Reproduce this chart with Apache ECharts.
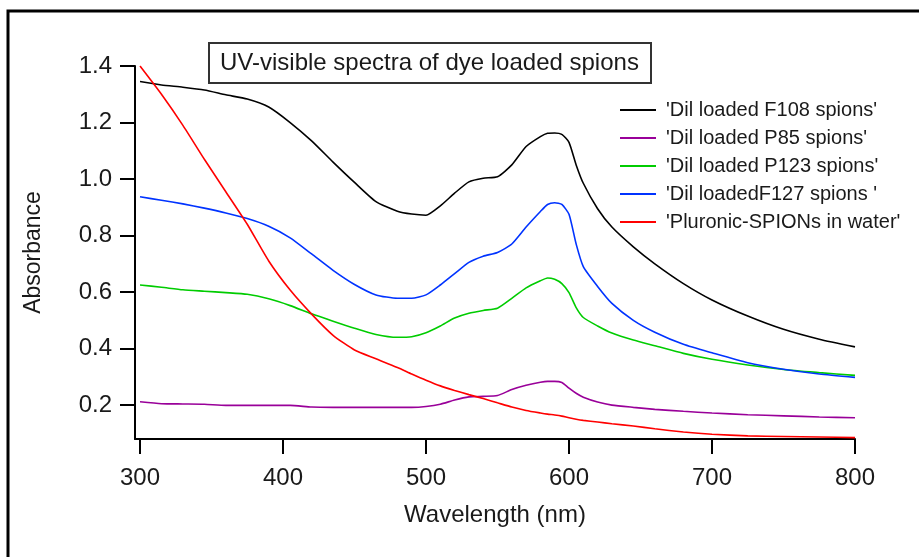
<!DOCTYPE html>
<html>
<head>
<meta charset="utf-8">
<title>UV-visible spectra</title>
<script src="https://cdn.jsdelivr.net/npm/echarts@6/dist/echarts.min.js"></script>
<style>
  html, body { margin: 0; padding: 0; background: #fff; }
  #chart { width: 919px; height: 557px; }
</style>
</head>
<body>
<div id="chart"></div>
<script>
// wavelength grid (nm)
const wavelengths = [300, 315, 330, 345, 360, 375, 390, 405, 420, 435, 450, 465, 480, 490, 500,
  510, 520, 530, 540, 550, 560, 570, 580, 585, 590, 595, 600, 605, 610, 620, 630, 645, 660,
  680, 700, 725, 750, 775, 800]

const f108 = [1.345, 1.333, 1.325, 1.315, 1.298, 1.283, 1.255, 1.20, 1.135, 1.06, 0.988, 0.92, 0.886,
  0.876, 0.872, 0.905, 0.95, 0.99, 1.003, 1.008, 1.05, 1.115, 1.15, 1.162, 1.163, 1.158, 1.13,
  1.05, 0.985, 0.895, 0.83, 0.76, 0.70, 0.63, 0.572, 0.515, 0.468, 0.433, 0.406]

const p85 = [0.212, 0.205, 0.204, 0.203, 0.199, 0.199, 0.199, 0.199, 0.193, 0.192, 0.192, 0.192, 0.192,
  0.192, 0.195, 0.203, 0.218, 0.229, 0.231, 0.234, 0.255, 0.27, 0.281, 0.284, 0.284, 0.28, 0.26,
  0.242, 0.228, 0.211, 0.2, 0.192, 0.185, 0.178, 0.172, 0.166, 0.162, 0.158, 0.155]

const p123 = [0.625, 0.617, 0.608, 0.603, 0.598, 0.592, 0.576, 0.552, 0.523, 0.497, 0.472, 0.45, 0.44,
  0.442, 0.456, 0.48, 0.508, 0.525, 0.535, 0.543, 0.578, 0.615, 0.64, 0.65, 0.645, 0.63, 0.598,
  0.545, 0.51, 0.48, 0.455, 0.43, 0.41, 0.383, 0.362, 0.342, 0.326, 0.315, 0.305]

const f127 = [0.937, 0.925, 0.912, 0.897, 0.88, 0.86, 0.833, 0.792, 0.735, 0.677, 0.627, 0.59, 0.578,
  0.578, 0.59, 0.625, 0.665, 0.705, 0.727, 0.74, 0.77, 0.83, 0.885, 0.91, 0.916, 0.91, 0.875,
  0.77, 0.69, 0.62, 0.56, 0.50, 0.458, 0.415, 0.385, 0.35, 0.327, 0.31, 0.298]

const pluronic = [1.40, 1.30, 1.19, 1.07, 0.955, 0.84, 0.71, 0.607, 0.522, 0.447, 0.395, 0.364, 0.333,
  0.31, 0.288, 0.268, 0.252, 0.237, 0.223, 0.208, 0.193, 0.181, 0.172, 0.168, 0.165, 0.161, 0.155,
  0.15, 0.146, 0.14, 0.134, 0.126, 0.116, 0.105, 0.097, 0.091, 0.089, 0.087, 0.085]

const seriesNames = ["'Dil loaded F108 spions'", "'Dil loaded P85 spions'", "'Dil loaded P123 spions'",
  "'Dil loadedF127 spions '", "'Pluronic-SPIONs in water'"]
const seriesColors = ["#000000", "#990099", "#00cc00", "#0033ff", "#ff0000"]
const seriesValues = [f108, p85, p123, f127, pluronic]

const xTicks = [300, 400, 500, 600, 700, 800]
const yTicks = [0.2, 0.4, 0.6, 0.8, 1.0, 1.2, 1.4]

const font = "'Liberation Sans', Arial, sans-serif"
const textColor = "#1a1a1a"

let chart = echarts.init(document.getElementById("chart"))

chart.setOption({
  animation: false,
  backgroundColor: "#fff",
  title: {
    text: "UV-visible spectra of dye loaded spions",
    left: 209,
    top: 43,
    padding: [8, 12, 8, 11],
    borderColor: "#333",
    borderWidth: 2,
    textStyle: {
      fontFamily: font,
      fontSize: 24,
      fontWeight: "normal",
      color: textColor
    }
  },
  legend: {
    orient: "vertical",
    left: 615,
    top: 95,
    icon: "rect",
    itemWidth: 36,
    itemHeight: 2,
    itemGap: 8,
    data: seriesNames,
    textStyle: {
      fontFamily: font,
      fontSize: 20,
      color: textColor,
      padding: [0, 0, 0, 5]
    }
  },
  grid: {
    left: 135,
    right: 64,
    top: 66,
    bottom: 118
  },
  xAxis: {
    type: "value",
    min: 296.5,
    max: 800,
    name: "Wavelength (nm)",
    nameLocation: "middle",
    nameGap: 64,
    nameTextStyle: { fontFamily: font, fontSize: 24, color: textColor },
    axisLine: { onZero: false, lineStyle: { color: "#000", width: 2 } },
    axisTick: { customValues: xTicks, length: 15, lineStyle: { color: "#000", width: 2 } },
    axisLabel: { customValues: xTicks, margin: 27, fontFamily: font, fontSize: 24, color: textColor },
    splitLine: { show: false }
  },
  yAxis: {
    type: "value",
    min: 0.08,
    max: 1.4,
    name: "Absorbance",
    nameLocation: "middle",
    nameGap: 90,
    nameTextStyle: { fontFamily: font, fontSize: 23, color: textColor },
    axisLine: { show: true, onZero: false, lineStyle: { color: "#000", width: 2 } },
    axisTick: { show: true, customValues: yTicks, length: 15, lineStyle: { color: "#000", width: 2 } },
    axisLabel: {
      customValues: yTicks,
      margin: 23,
      fontFamily: font,
      fontSize: 24,
      color: textColor,
      formatter: (v) => v.toFixed(1)
    },
    splitLine: { show: false }
  },
  series: seriesNames.map((name, i) => ({
    name: name,
    type: "line",
    symbol: "none",
    smooth: 0.2,
    color: seriesColors[i],
    lineStyle: { width: 1.6, color: seriesColors[i] },
    data: wavelengths.map((w, k) => [w, seriesValues[i][k]])
  })),
  graphic: [
    {
      type: "polyline",
      shape: { points: [[8, 557], [8, 11], [919, 11]] },
      style: { stroke: "#000", lineWidth: 3, fill: null }
    }
  ]
})
</script>
</body>
</html>
